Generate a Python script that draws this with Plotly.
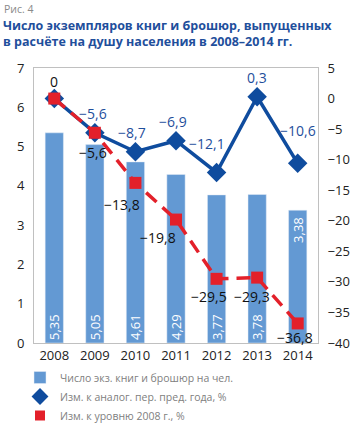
import plotly.graph_objects as go

years = ["2008", "2009", "2010", "2011", "2012", "2013", "2014"]
copies = [5.35, 5.05, 4.61, 4.29, 3.77, 3.78, 3.38]
yoy = [0, -5.6, -8.7, -6.9, -12.1, 0.3, -10.6]
vs2008 = [0, -5.6, -13.8, -19.8, -29.5, -29.3, -36.8]

left_ticks = [0, 1, 2, 3, 4, 5, 6, 7]
right_ticks = [5, 0, -5, -10, -15, -20, -25, -30, -35, -40]

names = ["Число экз. книг и брошюр на чел.",
         "Изм. к аналог. пер. пред. года, %",
         "Изм. к уровню 2008 г., %"]

# label offsets (px) – styling only
yoy_shift = [(0, 17), (-2, 19), (-3, 19), (-3, 19), (-10, 29), (0, 19), (0, 33)]
yoy_color = ["#111111", "#1f4f9c", "#1f4f9c", "#1f4f9c", "#1f4f9c", "#1f4f9c", "#1f4f9c"]
vs_shift = [None, (-2, -20), (-13, -22), (-18, -18), (-8, -18), (-5, -19), (-3, -14)]
# bars whose value label sits at the top of the bar instead of the base
label_at_top = [False, False, False, False, False, False, True]

BAR = "#6399d3"
BLUE = "#0f4c9e"
RED = "#e3202a"

W, H = 350, 423
ML, MR, MT, MB = 34, 32, 68, 80
PW, PH = W - ML - MR, H - MT - MB


def px_to_paper(px, py):
    return (px - ML) / PW, (H - MB - py) / PH


def fmt(v):
    if v == 0:
        return "0"
    if v == int(v):
        s = str(abs(int(v)))
    else:
        s = f"{abs(v):.1f}".replace(".", ",")
    return ("−" if v < 0 else "") + s


bar_labels = [f"{v:.2f}".replace(".", ",") for v in copies]

fig = go.Figure()
fig.add_trace(go.Bar(
    x=years, y=copies, marker_color=BAR, name=names[0],
    text=["" if top else lab for lab, top in zip(bar_labels, label_at_top)],
    textposition="inside", insidetextanchor="start", textangle=-90,
    textfont=dict(color="white", size=13, family="Open Sans"),
    showlegend=True,
))
fig.add_trace(go.Scatter(
    x=years, y=yoy, yaxis="y2", mode="lines+markers", name=names[1],
    line=dict(color=BLUE, width=3.5),
    marker=dict(symbol="diamond", size=15, color=BLUE),
    showlegend=False,
))
fig.add_trace(go.Scatter(
    x=years, y=vs2008, yaxis="y2", mode="lines+markers", name=names[2],
    line=dict(color=RED, width=3.5, dash="14px,8px"),
    marker=dict(symbol="square", size=12, color=RED),
    showlegend=False,
))
# legend-only entries (markers only)
fig.add_trace(go.Scatter(x=[None], y=[None], mode="markers", name=names[1],
                         marker=dict(symbol="diamond", size=13, color=BLUE)))
fig.add_trace(go.Scatter(x=[None], y=[None], mode="markers", name=names[2],
                         marker=dict(symbol="square", size=10, color=RED)))

ann = []
for i, (v, top) in enumerate(zip(copies, label_at_top)):
    if top:
        ann.append(dict(x=i, y=v, xref="x", yref="y", text=bar_labels[i], showarrow=False,
                        textangle=-90, yshift=-20,
                        font=dict(size=13, color="white", family="Open Sans")))
for i, v in enumerate(yoy):
    dx, dy = yoy_shift[i]
    ann.append(dict(x=i, y=v, xref="x", yref="y2", text=fmt(v), showarrow=False,
                    xshift=dx, yshift=dy,
                    font=dict(size=14, color=yoy_color[i], family="Open Sans")))
for i, v in enumerate(vs2008):
    if vs_shift[i] is None:
        continue
    dx, dy = vs_shift[i]
    ann.append(dict(x=i, y=v, xref="x", yref="y2", text=fmt(v), showarrow=False,
                    xshift=dx, yshift=dy,
                    font=dict(size=14, color="#111111", family="Open Sans")))

ax, ay = px_to_paper(2, 0)
ann.append(dict(x=ax, y=ay, xref="paper", yref="paper", xanchor="left", yanchor="top",
                text="Рис. 4", showarrow=False,
                font=dict(size=10.5, color="#8a8a8a", family="Open Sans")))
ax, ay = px_to_paper(1, 15)
ann.append(dict(x=ax, y=ay, xref="paper", yref="paper", xanchor="left", yanchor="top",
                align="left", showarrow=False,
                text="<b>Число экземпляров книг и брошюр, выпущенных<br>в расчёте на душу населения в 2008–2014 гг.</b>",
                font=dict(size=12.5, color="#1f4f9c", family="Open Sans")))

lx, ly = px_to_paper(20, 363)

fig.update_layout(
    width=W, height=H,
    margin=dict(l=ML, r=MR, t=MT, b=MB, autoexpand=False),
    paper_bgcolor="white", plot_bgcolor="white",
    bargap=0.55,
    uniformtext=dict(minsize=13, mode="show"),
    font=dict(family="Open Sans", color="#222222", size=13),
    xaxis=dict(type="category", categoryorder="array", categoryarray=years,
               range=[-0.5, len(years) - 0.5],
               showline=True, linecolor="#c0c0c0", linewidth=1, mirror=True,
               ticks="", tickfont=dict(size=13), showgrid=False),
    yaxis=dict(range=[0, 7], tickvals=left_ticks, showgrid=False, zeroline=False,
               showline=True, linecolor="#c0c0c0", linewidth=1, ticks="",
               ticklabelstandoff=6, tickfont=dict(size=13)),
    yaxis2=dict(range=[-40, 5], tickvals=right_ticks,
                ticktext=[fmt(t) for t in right_ticks], overlaying="y", side="right",
                showgrid=False, zeroline=False, showline=True, linecolor="#c0c0c0",
                ticks="", ticklabelstandoff=6, tickfont=dict(size=13)),
    legend=dict(x=lx, y=ly, xanchor="left", yanchor="top", orientation="v",
                font=dict(size=10.5, color="#808080"), tracegroupgap=0,
                bgcolor="rgba(0,0,0,0)"),
    annotations=ann,
)

fig.write_html("out.html")
